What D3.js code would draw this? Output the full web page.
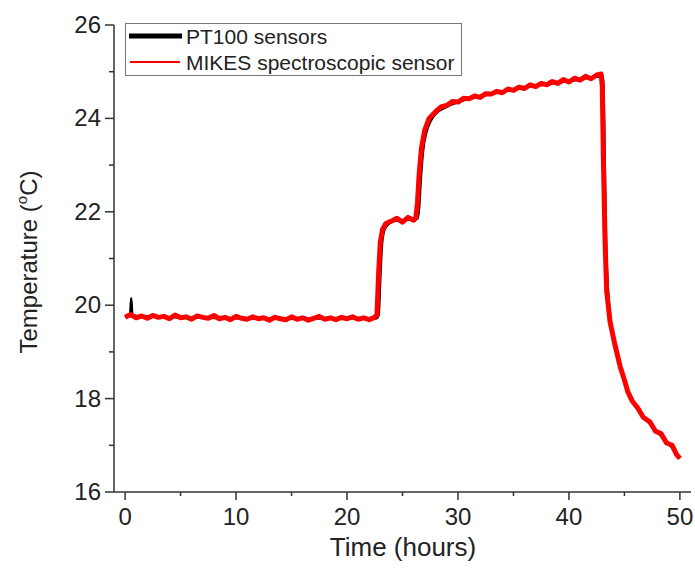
<!DOCTYPE html>
<html>
<head>
<meta charset="utf-8">
<script src="https://cdn.jsdelivr.net/npm/d3@7"></script>
<style>
  body { margin: 0; background: #fff; }
  svg text { font-family: "Liberation Sans", Arial, sans-serif; fill: #222; }
</style>
</head>
<body>
<svg id="chart" width="695" height="575"></svg>
<script>
// PT100 sensors (black)
const ptTime = [0, 0.45, 0.55, 0.65, 2, 5, 10, 15, 20, 22.65, 22.85, 23.0, 23.15, 23.35, 23.65, 24.2, 25, 26.35,
  26.5, 26.65, 26.85, 27.15, 27.55, 28, 29, 31, 34, 37, 40, 43.05, 43.15, 43.25, 43.35, 43.5, 43.75, 44.15, 44.65,
  45.35, 46.25, 47.35, 48.5, 49.3, 50];
const ptTemp = [19.76, 19.77, 20.15, 19.78, 19.76, 19.74, 19.72, 19.71, 19.72, 19.72, 19.8, 20.6, 21.3, 21.6, 21.72, 21.8, 21.82, 21.85,
  22.1, 22.7, 23.3, 23.7, 23.95, 24.1, 24.25, 24.42, 24.57, 24.7, 24.8, 24.9, 24.3, 22.6, 21.3, 20.4, 19.7, 19.2, 18.7,
  18.15, 17.75, 17.45, 17.15, 16.95, 16.72];

// MIKES spectroscopic sensor (red)
const mkTime = [0, 0.5, 1, 1.5, 2, 2.5, 3, 3.5, 4, 4.5, 5, 5.5, 6, 6.5, 7, 7.5, 8, 8.5, 9, 9.5, 10, 10.5,
  11, 11.5, 12, 12.5, 13, 13.5, 14, 14.5, 15, 15.5, 16, 16.5, 17, 17.5, 18, 18.5, 19, 19.5, 20, 20.5, 21, 21.5,
  22, 22.5, 22.7, 22.85, 23.0, 23.2, 23.5, 24, 24.5, 25, 25.5, 26, 26.2, 26.35, 26.5, 26.7, 27, 27.4, 28, 28.5,
  29, 29.5, 30, 30.5, 31, 31.5, 32, 32.5, 33, 33.5, 34, 34.5, 35, 35.5, 36, 36.5, 37, 37.5, 38, 38.5, 39, 39.5,
  40, 40.5, 41, 41.5, 42, 42.5, 42.9, 43.0, 43.1, 43.25, 43.4, 43.7, 44.1, 44.6, 45.0, 45.3, 45.7, 46.2, 46.7,
  47.3, 47.8, 48.3, 48.8, 49.3, 49.7, 50];
const mkTemp = [19.74, 19.8, 19.73, 19.77, 19.72, 19.78, 19.74, 19.76, 19.71, 19.79, 19.73, 19.75, 19.7, 19.77, 19.74, 19.72, 19.78, 19.71, 19.74, 19.69, 19.76, 19.72,
  19.7, 19.75, 19.71, 19.73, 19.68, 19.74, 19.71, 19.69, 19.75, 19.7, 19.73, 19.68, 19.72, 19.76, 19.7, 19.73, 19.69, 19.74, 19.71, 19.75, 19.7, 19.73,
  19.69, 19.74, 19.8, 20.7, 21.35, 21.62, 21.75, 21.8, 21.86, 21.78, 21.88, 21.82, 21.87, 22.2, 22.8, 23.35, 23.75, 24.0, 24.15, 24.25,
  24.28, 24.36, 24.35, 24.43, 24.42, 24.48, 24.45, 24.53, 24.52, 24.58, 24.55, 24.63, 24.6, 24.67, 24.64, 24.72, 24.68, 24.75, 24.72, 24.79, 24.75, 24.83,
  24.78, 24.86, 24.82, 24.9, 24.85, 24.93, 24.95, 24.7, 23.2, 21.4, 20.3, 19.65, 19.2, 18.7, 18.4, 18.15, 17.95, 17.8, 17.6,
  17.5, 17.3, 17.25, 17.05, 17.0, 16.8, 16.72];

const xTicks = [0, 10, 20, 30, 40, 50];
const yTicks = [16, 18, 20, 22, 24, 26];
const legendLabels = ["PT100 sensors", "MIKES spectroscopic sensor"];

const svg = d3.select("#chart");
const axisColor = "#333";

const x = d3.scaleLinear().domain([-1, 51]).range([114, 691]);
const y = d3.scaleLinear().domain([16, 26]).range([492, 25]);

// axes
const xAxis = svg.append("g").attr("transform", "translate(0,492)");
xAxis.append("line").attr("x1", 114).attr("x2", 691).attr("stroke", axisColor).attr("stroke-width", 1.5);
xAxis.selectAll(".minor").data(d3.range(5, 50, 10)).enter().append("line")
  .attr("x1", d => x(d)).attr("x2", d => x(d)).attr("y1", 0).attr("y2", 4)
  .attr("stroke", axisColor).attr("stroke-width", 1.5);
xAxis.selectAll(".major").data(xTicks).enter().append("line")
  .attr("x1", d => x(d)).attr("x2", d => x(d)).attr("y1", 0).attr("y2", 8)
  .attr("stroke", axisColor).attr("stroke-width", 1.5);
xAxis.selectAll("text").data(xTicks).enter().append("text")
  .attr("x", d => x(d)).attr("y", 33).attr("text-anchor", "middle")
  .attr("font-size", 24).text(d => d);

const yAxis = svg.append("g").attr("transform", "translate(114,0)");
yAxis.append("line").attr("y1", 25).attr("y2", 492).attr("stroke", axisColor).attr("stroke-width", 1.5);
yAxis.selectAll(".minor").data(d3.range(17, 26, 2)).enter().append("line")
  .attr("y1", d => y(d)).attr("y2", d => y(d)).attr("x1", 0).attr("x2", -5)
  .attr("stroke", axisColor).attr("stroke-width", 1.5);
yAxis.selectAll(".major").data(yTicks).enter().append("line")
  .attr("y1", d => y(d)).attr("y2", d => y(d)).attr("x1", 0).attr("x2", -9)
  .attr("stroke", axisColor).attr("stroke-width", 1.5);
yAxis.selectAll("text").data(yTicks).enter().append("text")
  .attr("x", -13).attr("y", d => y(d) + 8).attr("text-anchor", "end")
  .attr("font-size", 24).text(d => d);

// axis titles
svg.append("text").attr("x", 403).attr("y", 556).attr("text-anchor", "middle")
  .attr("font-size", 26).text("Time (hours)");
const yt = svg.append("text").attr("transform", "translate(37,262) rotate(-90)")
  .attr("text-anchor", "middle").attr("font-size", 24);
yt.append("tspan").text("Temperature (");
yt.append("tspan").attr("font-size", 15).attr("dy", -10).text("o");
yt.append("tspan").attr("dy", 10).text("C)");

// lines
const smooth = d3.line().x(d => x(d[0])).y(d => y(d[1])).curve(d3.curveMonotoneX);
const jagged = d3.line().x(d => x(d[0])).y(d => y(d[1]));
svg.append("path").datum(d3.zip(ptTime, ptTemp))
  .attr("fill", "none").attr("stroke", "#000").attr("stroke-width", 2.5).attr("d", smooth);
svg.append("path").datum(d3.zip(mkTime, mkTemp))
  .attr("fill", "none").attr("stroke", "#ff0000").attr("stroke-width", 5)
  .attr("stroke-linejoin", "round").attr("d", jagged);

// legend
const lg = svg.append("g");
lg.append("rect").attr("x", 125.5).attr("y", 23.5).attr("width", 336).attr("height", 52)
  .attr("fill", "#fff").attr("stroke", "#777").attr("stroke-width", 1);
lg.append("line").attr("x1", 129).attr("x2", 182).attr("y1", 36).attr("y2", 36)
  .attr("stroke", "#000").attr("stroke-width", 5);
lg.append("line").attr("x1", 130).attr("x2", 180).attr("y1", 62).attr("y2", 62)
  .attr("stroke", "#ff0000").attr("stroke-width", 2);
lg.selectAll("text").data(legendLabels).enter().append("text")
  .attr("x", 186).attr("y", (d, i) => 44 + i * 26).attr("font-size", 21).text(d => d);
</script>
</body>
</html>
